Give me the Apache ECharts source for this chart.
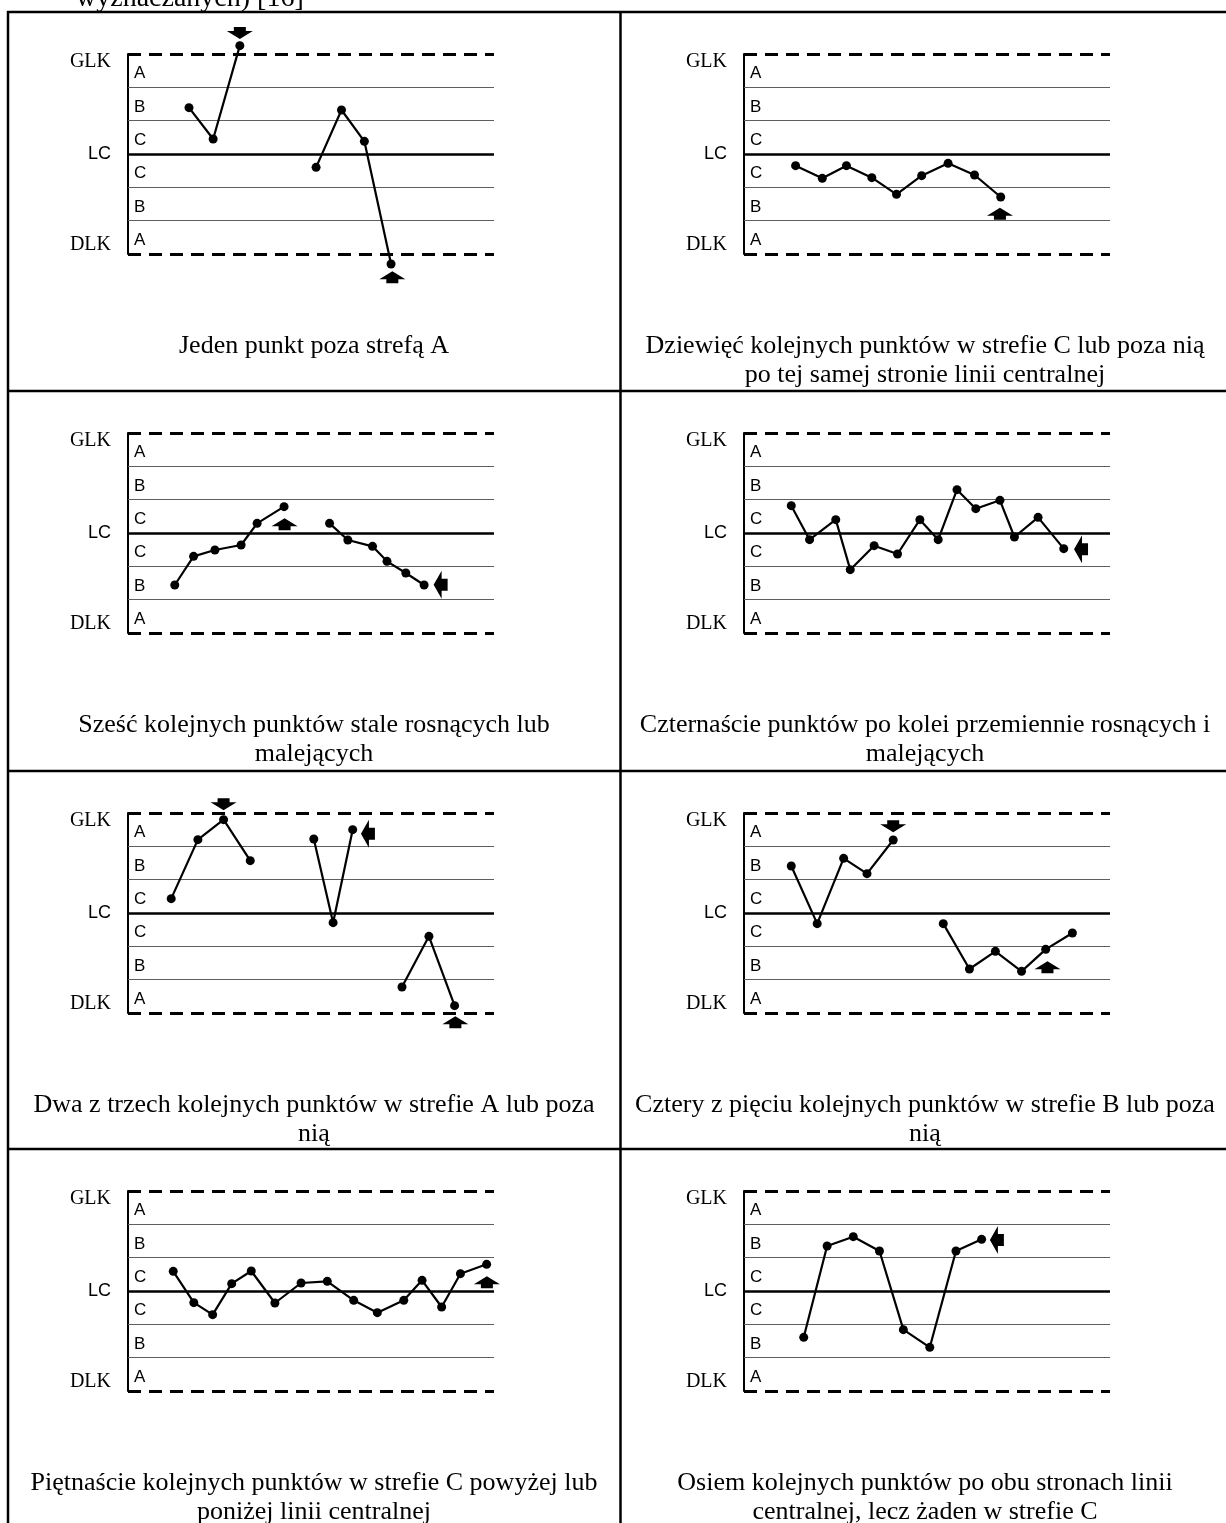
<!DOCTYPE html>
<html>
<head>
<meta charset="utf-8">
<script src="https://cdn.jsdelivr.net/npm/echarts@6/dist/echarts.min.js"></script>
<style>
html, body { margin: 0; padding: 0; background: #fff; }
#chart { width: 1226px; height: 1523px; }
</style>
</head>
<body>
<div id="chart"></div>
<script>
/* karty kontrolne - reguly stref */
var zoneValues = [3, 2, 1, 0, -1, -2, -3];
var sideLabels = { '3': 'GLK', '0': 'LC', '-3': 'DLK' };
var bandLetters = ['A', 'B', 'C', 'C', 'B', 'A'];

var captions = [
    'Jeden punkt poza strefą A',
    'Dziewięć kolejnych punktów w strefie C lub poza nią\npo tej samej stronie linii centralnej',
    'Sześć kolejnych punktów stale rosnących lub\nmalejących',
    'Czternaście punktów po kolei przemiennie rosnących i\nmalejących',
    'Dwa z trzech kolejnych punktów w strefie A lub poza\nnią',
    'Cztery z pięciu kolejnych punktów w strefie B lub poza\nnią',
    'Piętnaście kolejnych punktów w strefie C powyżej lub\nponiżej linii centralnej',
    'Osiem kolejnych punktów po obu stronach linii\ncentralnej, lecz żaden w strefie C'
];

// punkty: [nr probki, polozenie w jednostkach sigma]
var p1 = [
    [[2.4, 1.39], [3.35, 0.45], [4.4, 3.25]],
    [[7.4, -0.4], [8.4, 1.32], [9.3, 0.38], [10.35, -3.3]]
];
var p2 = [
    [[2.03, -0.35], [3.08, -0.73], [4.03, -0.35], [5.03, -0.71], [6.0, -1.21], [6.99, -0.65], [8.03, -0.28], [9.07, -0.63], [10.1, -1.29]]
];
var p3 = [
    [[1.84, -1.56], [2.58, -0.7], [3.42, -0.51], [4.45, -0.36], [5.08, 0.29], [6.14, 0.79]],
    [[7.93, 0.29], [8.65, -0.21], [9.62, -0.4], [10.19, -0.85], [10.93, -1.2], [11.65, -1.56]]
];
var p4 = [
    [[1.86, 0.82], [2.58, -0.2], [3.61, 0.4], [4.18, -1.1], [5.12, -0.38], [6.04, -0.63], [6.92, 0.4], [7.64, -0.2], [8.38, 1.3], [9.12, 0.73], [10.07, 0.98], [10.64, -0.12], [11.57, 0.47], [12.58, -0.47]]
];
var p5 = [
    [[1.7, 0.43], [2.75, 2.2], [3.76, 2.8], [4.81, 1.57]],
    [[7.31, 2.22], [8.07, -0.29], [8.84, 2.5]],
    [[10.78, -2.22], [11.84, -0.7], [12.85, -2.78]]
];
var p6 = [
    [[1.86, 1.41], [2.88, -0.32], [3.92, 1.64], [4.84, 1.18], [5.87, 2.19]],
    [[7.84, -0.32], [8.87, -1.68], [9.89, -1.15], [10.92, -1.75], [11.87, -1.09], [12.92, -0.6]]
];
var p7 = [
    [[1.78, 0.59], [2.59, -0.35], [3.33, -0.71], [4.08, 0.22], [4.85, 0.6], [5.78, -0.36], [6.81, 0.24], [7.84, 0.29], [8.88, -0.28], [9.81, -0.65], [10.85, -0.28], [11.57, 0.32], [12.34, -0.48], [13.08, 0.52], [14.11, 0.8]]
];
var p8 = [
    [[2.35, -1.39], [3.27, 1.35], [4.3, 1.63], [5.33, 1.2], [6.27, -1.16], [7.31, -1.69], [8.34, 1.2], [9.35, 1.55]]
];

// strzalki: [x, y, kierunek]
var p1Arrows = [[4.4, 3.63, 'down'], [10.4, -3.7, 'up']];
var p2Arrows = [[10.07, -1.79, 'up']];
var p3Arrows = [[6.16, 0.26, 'up'], [12.3, -1.55, 'left']];
var p4Arrows = [[13.26, -0.49, 'left']];
var p5Arrows = [[3.76, 3.26, 'down'], [9.44, 2.38, 'left'], [12.88, -3.28, 'up']];
var p6Arrows = [[5.87, 2.6, 'down'], [11.94, -1.63, 'up']];
var p7Arrows = [[14.12, 0.26, 'up']];
var p8Arrows = [[9.95, 1.53, 'left']];

var panels = [p1, p2, p3, p4, p5, p6, p7, p8];
var panelArrows = [p1Arrows, p2Arrows, p3Arrows, p4Arrows, p5Arrows, p6Arrows, p7Arrows, p8Arrows];

// uklad tabeli
var colLeft = [128, 744];
var colCenter = [314, 925];
var rowTop = [12, 391, 771, 1149];
var plotW = 366, plotH = 200;

var arrowShapes = {
    down: { path: 'path://M7,0 L19,0 L19,4 L26,4 L13,12 L0,4 L7,4 Z', size: [26, 12] },
    up: { path: 'path://M13,0 L26,8 L19,8 L19,12 L7,12 L7,8 L0,8 Z', size: [26, 12] },
    left: { path: 'path://M0,14 L8,0 L8,8 L14,8 L14,20 L8,20 L8,28 Z', size: [14, 28] }
};

function zoneLineStyle(v) {
    if (Math.abs(v) === 3) return { type: [13, 8], width: 3, color: '#000' };
    if (v === 0) return { type: 'solid', width: 2.5, color: '#000' };
    return { type: 'solid', width: 1, color: '#5e5e5e' };
}

var grids = [], xAxes = [], yAxes = [], series = [], graphics = [];

panels.forEach(function (groups, i) {
    var col = i % 2, row = Math.floor(i / 2);
    grids.push({
        left: colLeft[col], top: rowTop[row] + 42, width: plotW, height: plotH,
        containLabel: false, outerBoundsMode: 'none'
    });
    xAxes.push({
        type: 'value', gridIndex: i, min: 0, max: 14.4, show: false
    });
    yAxes.push({
        type: 'value', gridIndex: i, min: -3, max: 3, interval: 1,
        axisLine: { show: true, lineStyle: { color: '#000', width: 2 } },
        axisTick: { show: false },
        splitLine: { show: false },
        axisLabel: {
            margin: 17,
            formatter: function (v) {
                var t = sideLabels[String(v)];
                if (!t) return '';
                if (v === 3) return '{glk|' + t + '}';
                if (v === -3) return '{dlk|' + t + '}';
                return '{lc|' + t + '}';
            },
            rich: {
                glk: { fontFamily: 'Liberation Serif', fontSize: 20, color: '#000', padding: [16, 0, 0, 0] },
                dlk: { fontFamily: 'Liberation Serif', fontSize: 20, color: '#000', padding: [0, 0, 18, 0] },
                lc: { fontFamily: 'Liberation Sans', fontSize: 18, color: '#000' }
            }
        }
    });

    groups.forEach(function (g, k) {
        var s = {
            type: 'line', xAxisIndex: i, yAxisIndex: i, data: g,
            symbol: 'circle', symbolSize: 9, clip: false, z: 5,
            itemStyle: { color: '#000', opacity: 1 },
            lineStyle: { color: '#000', width: 2.2 }
        };
        if (k === 0) {
            s.markLine = {
                silent: true, symbol: ['none', 'none'], label: { show: false },
                data: zoneValues.map(function (v) {
                    return { yAxis: v, lineStyle: zoneLineStyle(v) };
                })
            };
            s.markArea = {
                silent: true,
                itemStyle: { color: 'rgba(0,0,0,0)' },
                label: {
                    show: true, position: 'insideLeft', distance: 6, offset: [0, 3],
                    fontFamily: 'Liberation Sans', fontSize: 17, color: '#000'
                },
                data: bandLetters.map(function (b, j) {
                    return [{ yAxis: zoneValues[j], name: b }, { yAxis: zoneValues[j + 1] }];
                })
            };
        }
        series.push(s);
    });

    series.push({
        type: 'scatter', xAxisIndex: i, yAxisIndex: i, clip: false, z: 6,
        itemStyle: { color: '#000', opacity: 1 },
        data: panelArrows[i].map(function (a) {
            var sh = arrowShapes[a[2]];
            return { value: [a[0], a[1]], symbol: sh.path, symbolSize: sh.size };
        })
    });

    graphics.push({
        type: 'text', z: 10,
        style: {
            text: captions[i], x: colCenter[col], y: rowTop[row] + 320,
            textAlign: 'center', textVerticalAlign: 'top',
            font: '26px "Liberation Serif"', lineHeight: 29, fill: '#000'
        }
    });
});

// linie tabeli
rowTop.forEach(function (y) {
    graphics.push({ type: 'line', shape: { x1: 7, y1: y, x2: 1226, y2: y }, style: { stroke: '#000', lineWidth: 2.5 } });
});
graphics.push({ type: 'line', shape: { x1: 8, y1: 11, x2: 8, y2: 1523 }, style: { stroke: '#000', lineWidth: 2.5 } });
graphics.push({ type: 'line', shape: { x1: 620.5, y1: 11, x2: 620.5, y2: 1523 }, style: { stroke: '#000', lineWidth: 2.5 } });
graphics.push({
    type: 'text',
    style: {
        text: 'wyznaczanych) [16]', x: 76, y: 13,
        textAlign: 'left', textVerticalAlign: 'bottom',
        font: '28px "Liberation Serif"', fill: '#000'
    }
});

var chart = echarts.init(document.getElementById('chart'));
chart.setOption({
    animation: false,
    backgroundColor: '#fff',
    grid: grids,
    xAxis: xAxes,
    yAxis: yAxes,
    series: series,
    graphic: graphics
});
</script>
</body>
</html>
